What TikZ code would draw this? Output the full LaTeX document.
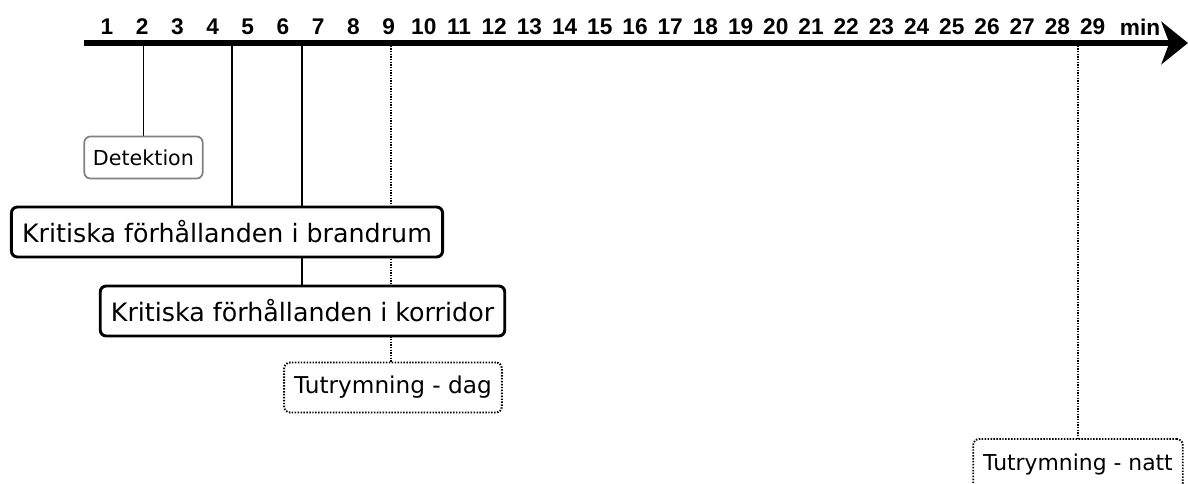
\documentclass[tikz,border=0pt]{standalone}
\usepackage{fontspec}
\setmainfont{DejaVu Sans}
\newfontfamily\tickfont{Liberation Sans}
\usetikzlibrary{arrows.meta, positioning, backgrounds}

\begin{document}
\begin{tikzpicture}[x=0.75pt, y=-0.75pt,
  tick/.style={font=\tickfont\bfseries\fontsize{17}{17}\selectfont, inner sep=0pt},
  event/.style={draw, rounded corners=4.5pt, fill=white, inner xsep=8pt, minimum height=37.5pt},
  critical/.style={event, line width=2.2pt, font=\fontsize{19}{19}\selectfont},
  evacuation/.style={event, line width=1.4pt, dash pattern=on 1.1pt off 1.1pt, inner xsep=7.5pt, font=\fontsize{17.4}{18}\selectfont},
  detection/.style={event, draw=gray, line width=1.3pt, minimum height=31.5pt, inner xsep=6.5pt, font=\fontsize{15.5}{16}\selectfont},
  thickline/.style={line width=1.6pt},
  dotline/.style={line width=1pt, dash pattern=on 1pt off 1pt}]
\useasboundingbox (0,0) rectangle (1188,484);
% Time axis
\coordinate (start) at (84,43);
\coordinate (end) at (1188,43);
\draw[line width=5.2pt, -{Stealth[length=20pt, width=32pt, inset=6pt]}] (start) -- (end);
% Minute labels
\foreach \n in {1,...,29}
  \node[tick] (m\n) at ({107+35.2*(\n-1)},27) {\n};
\node[tick] (min) at (1140,27) {min};
% Events
\node[detection] (det) at (143.5,157.5) {Detektion};
\node[critical] (brand) at (227,232) {Kritiska förhållanden i brandrum};
\node[critical] (korr) at (302.5,311) {Kritiska förhållanden i korridor};
\node[evacuation] (dag) at (393,387.5) {Tutrymning - dag};
\node[evacuation, font=\fontsize{16.4}{17}\selectfont] (natt) at (1078,464) {Tutrymning - natt};
% Connectors
\coordinate (c2) at (143.5,43);
\coordinate (c5) at (232,43);
\coordinate (c7) at (302,43);
\coordinate (c9) at (391,43);
\coordinate (c28) at (1078,43);
\begin{scope}[on background layer]
\draw[line width=0.8pt] (c2) -- (det.north);
\draw[thickline] (c5) -- (c5 |- brand.north);
\draw[thickline] (c7) -- (c7 |- korr.north);
\draw[dotline] (c9) -- (c9 |- dag.north);
\draw[dotline] (c28) -- (natt.north);
\end{scope}
\end{tikzpicture}
\end{document}
